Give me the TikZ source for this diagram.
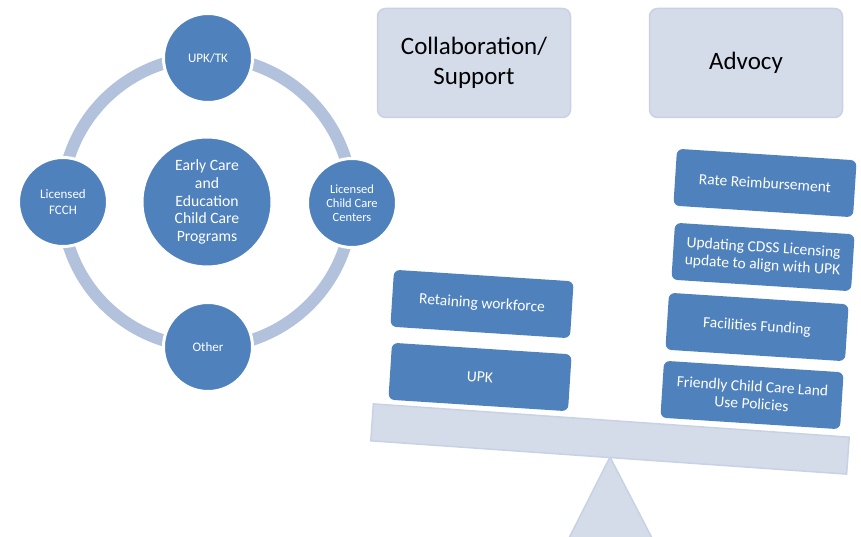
\documentclass[tikz,border=0pt]{standalone}
\usepackage{fontspec}
\setmainfont{Carlito}

\definecolor{nodeblue}{HTML}{4F81BD}
\definecolor{ringblue}{HTML}{B3C2DC}
\definecolor{paleblue}{HTML}{D4DCEA}
\definecolor{paleedge}{HTML}{C8D2E5}

\begin{document}
\begin{tikzpicture}[x=1pt, y=-1pt,
        bubble/.style={circle, fill=nodeblue, draw=white, line width=3pt, text=white, align=center, inner sep=0pt, minimum size=89pt, font=\fontsize{13}{15.5}\selectfont},
        headbox/.style={rectangle, rounded corners=8pt, fill=paleblue, draw=paleedge, line width=1.5pt, align=center, minimum width=193pt, minimum height=109pt, font=\fontsize{25}{30}\selectfont},
        itembox/.style={rectangle, rounded corners=6pt, fill=nodeblue, text=white, align=center, minimum width=180pt, minimum height=57pt, rotate=-3.7, font=\fontsize{15.5}{17.5}\selectfont}]

        \useasboundingbox (0, 0) rectangle (861, 537);

        % programs wheel
        \node[bubble, minimum size=130pt, font=\fontsize{15.7}{17.7}\selectfont] (hub) at (207, 202) {Early Care\\and\\Education\\Child Care\\Programs};
        \draw[ringblue, line width=12pt] (hub.center) circle[radius=145pt];
        \node[bubble] (upk) at (208, 58) {UPK/TK};
        \node[bubble] (fcch) at (63, 202) {Licensed\\FCCH};
        \node[bubble, font=\fontsize{12.5}{14}\selectfont] (centers) at (352, 203) {Licensed\\Child Care\\Centers};
        \node[bubble] (other) at (208, 347) {Other};

        % headings
        \node[headbox] (collab) at (474, 63) {Collaboration/\\Support};
        \node[headbox] (advocy) at (746, 63) {Advocy};

        % scale
        \draw[fill=paleblue, draw=paleedge, line width=1.5pt, line join=round] (569, 538) -- (610, 457) -- (652, 538) -- cycle;
        \node[rectangle, rotate=-4, fill=paleblue, draw=paleedge, line width=1.5pt, minimum width=477pt, minimum height=37pt] (beam) at (610, 439) {};

        \node[itembox] (retain) at (482, 304) {Retaining workforce};
        \node[itembox] (upkbox) at (480, 377) {UPK};

        \node[itembox] (rate) at (765, 183) {Rate Reimbursement};
        \node[itembox] (cdss) at (763, 257) {Updating CDSS Licensing\\update to align with UPK};
        \node[itembox] (facil) at (757, 327) {Facilities Funding};
        \node[itembox] (land) at (752, 395) {Friendly Child Care Land\\Use Policies};
\end{tikzpicture}
\end{document}
